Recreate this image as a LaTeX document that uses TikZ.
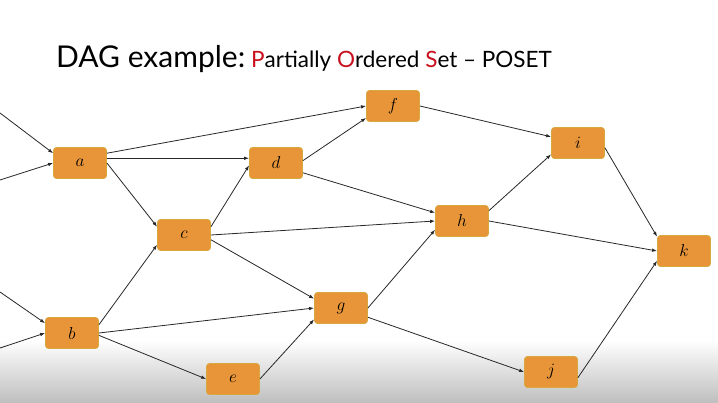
\documentclass[tikz,border=0pt]{standalone}
\usepackage{fontspec}
\setmainfont{Lato}
\usetikzlibrary{arrows.meta}

\definecolor{boxfill}{RGB}{232,149,58}
\definecolor{boxline}{RGB}{214,168,62}
\definecolor{titlered}{RGB}{200,16,30}
\definecolor{edgegray}{RGB}{40,40,40}

\tikzset{
  vertex/.style={draw=boxline, fill=boxfill, line width=0.8pt, rounded corners=3pt,
    minimum width=53pt, minimum height=31pt, inner sep=0pt,
    font=\fontsize{18}{20}\selectfont},
  dagedge/.style={->, draw=edgegray, line width=0.8pt}
}

\begin{document}
\begin{tikzpicture}[x=1pt,y=1pt,>={Latex[length=5pt,width=3.6pt]}]

% Frame and bottom shade
\useasboundingbox (0,0) rectangle (718,402);
\fill[white] (0,0) rectangle (718,402);
\shade[top color=white, bottom color=black!25] (0,0) rectangle (718,62);

% Title
\node[anchor=base west, inner sep=0pt] (title) at (56,334)
  {{\fontsize{30}{32}\selectfont DAG example:}\hspace{6pt}%
   {\fontsize{22.5}{26}\selectfont \textcolor{titlered}{P}artially
    \textcolor{titlered}{O}rdered \textcolor{titlered}{S}et -- POSET}};

% Vertices
\node[vertex] (a) at (80,239) {$a$};
\node[vertex] (b) at (72,69) {$b$};
\node[vertex] (c) at (184,167) {$c$};
\node[vertex] (d) at (276,239) {$d$};
\node[vertex] (e) at (233,23) {$e$};
\node[vertex] (f) at (393,296) {$f$};
\node[vertex] (g) at (341,94) {$g$};
\node[vertex] (h) at (462,181) {$h$};
\node[vertex] (i) at (578,259) {$i$};
\node[vertex] (j) at (551,30) {$j$};
\node[vertex] (k) at (684,151) {$k$};

% Loose ends on the left
\coordinate (in1) at (0,289);
\coordinate (in2) at (0,222);
\coordinate (in3) at (0,110);
\coordinate (in4) at (0,54);

% Edges
\draw[dagedge] (in1) -- (a.160);
\draw[dagedge] (in2) -- (a.west);
\draw[dagedge] (in3) -- (b.160);
\draw[dagedge] (in4) -- (b.west);
\draw[dagedge] (a.20) -- (f.west);
\draw[dagedge] (a.10) -- (d.10 -| d.west);
\draw[dagedge] (a.east) -- (c.163);
\draw[dagedge] (b.17) -- (c.200);
\draw[dagedge] (b.east) -- (g.west);
\draw[dagedge] (b.-5) -- (e.west);
\draw[dagedge] (c.17) -- (d.185);
\draw[dagedge] (c.east) -- (h.west);
\draw[dagedge] (c.-10) -- (g.161);
\draw[dagedge] (d.5) -- (f.204);
\draw[dagedge] (d.-20) -- (h.163);
\draw[dagedge] (e.east) -- (g.203);
\draw[dagedge] (f.east) -- (i.167);
\draw[dagedge] (g.east) -- (h.198);
\draw[dagedge] (g.-19) -- (j.west);
\draw[dagedge] (h.21) -- (i.203);
\draw[dagedge] (h.east) -- (k.west);
\draw[dagedge] (i.-10) -- (k.152);
\draw[dagedge] (j.-12) -- (k.200);

\end{tikzpicture}
\end{document}
